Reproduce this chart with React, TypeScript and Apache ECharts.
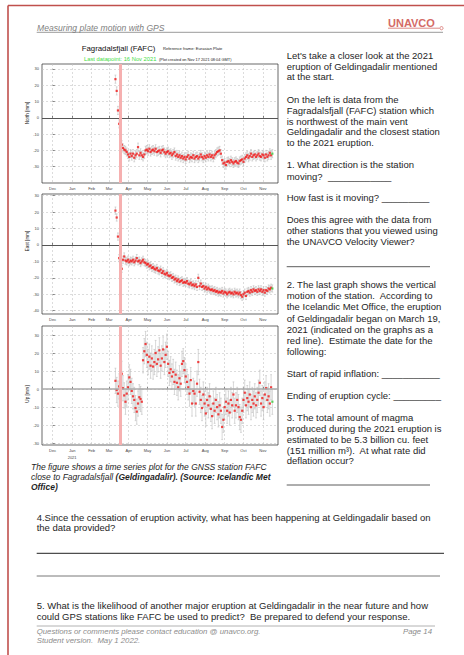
import React, { useEffect, useRef } from 'react';
import * as echarts from 'echarts';

// ---------- data ----------
const monthStarts = [0, 31, 62, 90, 121, 151, 182, 212, 243, 274, 304, 335];
const monthLabels = ['Dec', 'Jan', 'Feb', 'Mar', 'Apr', 'May', 'Jun', 'Jul', 'Aug', 'Sep', 'Oct', 'Nov'];
const eruptionDay = 108; // 19 March 2021 (days since 1 Dec 2020)

const days = [
  100, 102, 104, 106, 108, 110, 112, 114, 116, 118,
  120, 122, 124, 126, 128, 130, 132, 134, 136, 138,
  140, 142, 144, 146, 148, 150, 152, 154, 156, 158,
  160, 162, 164, 166, 168, 170, 172, 174, 176, 178,
  180, 182, 184, 186, 188, 190, 192, 194, 196, 198,
  200, 202, 204, 206, 208, 210, 212, 214, 216, 218,
  220, 222, 224, 226, 228, 230, 232, 234, 236, 238,
  240, 242, 244, 246, 248, 250, 252, 254, 256, 258,
  260, 262, 264, 266, 268, 270, 272, 274, 276, 278,
  280, 282, 284, 286, 288, 290, 292, 294, 296, 298,
  300, 302, 304, 306, 308, 310, 312, 314, 316, 318,
  320, 322, 324, 326, 328, 330, 332, 334, 336, 338,
  340, 342, 344, 346, 348, 350,
];

const north = [
  23.7, 16.5, 4.5, -3.7, -12, -16.5, -18.5, -19.5, -20, -21,
  -22.5, -24, -22, -23.5, -22, -24.5, -23, -22, -18, -23,
  -21.5, -23, -24, -22.5, -20, -19.5, -20.5, -19, -21, -20,
  -19.5, -20.5, -19, -21, -20.5, -20, -21.5, -20, -19.5, -21,
  -22, -21, -20.5, -22, -21.5, -23, -22, -21, -23.5, -22.5,
  -24, -23, -24.5, -23.5, -25, -24, -25.5, -24, -23, -25,
  -24, -24.5, -23, -25, -24, -23.5, -25, -24, -22.5, -24,
  -25, -23.5, -24.5, -23, -24, -22.5, -24, -23, -24.5, -23,
  -22, -21, -20.5, -20, -22, -26, -28, -27.5, -29, -27,
  -26.5, -27.5, -26, -27, -28, -27, -26.5, -27.5, -28, -26.5,
  -26, -25.5, -27, -25, -24, -23, -24.5, -23.5, -22, -24,
  -23, -22.5, -24, -23, -22, -23.5, -24, -22.5, -23, -24.5,
  -22.5, -24, -23, -21.5, -23, -22,
];

const east = [
  20.9, 16.7, 5.1, -8, -12.8, -14.5, -9, -7, -9.5, -10,
  -9, -10.5, -9.5, -10, -9, -10.5, -9.5, -8, -10, -9.5,
  -11, -10, -9, -10.5, -11, -12, -11.5, -13, -12.5, -14,
  -13.5, -14.5, -15, -14, -15.5, -16, -15, -17, -16, -17.5,
  -18, -17, -18.5, -19, -18.5, -20, -19.5, -21, -20.5, -22,
  -21, -22.5, -22, -21.5, -23, -22.5, -23, -22, -23.5, -24,
  -23, -24.5, -24, -25, -24, -25.5, -20, -25, -23.5, -25.5,
  -25, -26.5, -25.5, -27, -26, -27, -27.5, -27, -28, -27.5,
  -28.5, -28, -29, -28.5, -29, -28, -29.5, -28.5, -29, -30,
  -29, -28.5, -29.5, -29, -30, -28.5, -29.5, -29, -30, -29,
  -30.5, -31.5, -30, -29, -31, -28.5, -28, -29, -27.5, -28.5,
  -27, -28, -27.5, -28.5, -27, -28, -27, -28.5, -27.5, -29,
  -27.5, -28, -26.5, -27, -26, -26.5,
];

const up = [
  4.6, -0.5, -2.5, 1.5, 6, 8.5, 0.5, -3.5, -7, -2.5,
  1, 6.5, 4, -1, -4, -6, -10.5, -12.5, -8, -4.5,
  -5.5, -7, 16, 21, 25, 19, 15, 18, 13, 17,
  12.5, 15, 20, 14, 16.5, 21.5, 13, 17, 22, 15,
  19, 23.5, 14, 9, 11, 7, 9.5, 4, 8, 3.5,
  1, 6, 3, 14, 15.5, 10.5, 7, 4, 1, -2.5,
  5, -8, -1, -2.5, -8, 3, 15, -1.5, -6, -10.5,
  -3, -8, -13.5, -6, -9, -4, -11, -15, -8, -12,
  -6, -10, -14, -9, -12, -21, -17, -10, -7, -12,
  -8, -13, -6, -9, -3, -12, -9, -6, -10, -15.5,
  -17, -12, -6, -2, -9, -5, -7, -3, -10, -6,
  -8, -4, -9, -6, -2, 3.5, -8, -5, -10, -3,
  0.5, -6, -4, -8, 1, -7,
];

const northErr = 2.5;
const eastErr = 2.2;
const upErr = 7;

const northTicks = [-30, -20, -10, 0, 10, 20, 30];
const eastTicks = [-40, -30, -20, -10, 0, 10, 20, 30];
const upTicks = [-30, -20, -10, 0, 10, 20, 30];

// ---------- layout / styles ----------
const FONT = '"Liberation Sans", Arial, Helvetica, sans-serif';
const panels = [
  { vals: north, err: northErr, ticks: northTicks, min: -40, max: 33, top: 64, height: 119, name: 'North [mm]', nameY: 113, zero: '#555', zeroW: 1 },
  { vals: east, err: eastErr, ticks: eastTicks, min: -42, max: 31, top: 194, height: 120, name: 'East [mm]', nameY: 241, zero: '#555', zeroW: 1 },
  { vals: up, err: upErr, ticks: upTicks, min: -31, max: 35, top: 326, height: 119, name: 'Up [mm]', nameY: 394, zero: '#aaa', zeroW: 1.6 },
];

function txt(x: number, y: number, text: string, size = 9.5, extra: any = {}) {
  return {
    type: 'text', x, y, silent: true, z: 10,
    style: {
      text, fontSize: size, fontFamily: FONT, fill: '#1e1e1e',
      align: 'left', verticalAlign: 'middle', textAlign: 'left', textVerticalAlign: 'middle',
      ...extra,
    },
  };
}
function hline(x1: number, x2: number, y: number, color: string, w: number) {
  return { type: 'line', silent: true, shape: { x1, y1: y, x2, y2: y }, style: { stroke: color, lineWidth: w } };
}

const rightLines: [number, string][] = [
  [55, "Let's take a closer look at the 2021"],
  [66, 'eruption of Geldingadalir mentioned'],
  [76.7, 'at the start.'],
  [99.3, 'On the left is data from the'],
  [110.3, 'Fagradalsfjall (FAFC) station which'],
  [121, 'is northwest of the main vent'],
  [131.7, 'Geldingadalir and the closest station'],
  [142.3, 'to the 2021 eruption.'],
  [164.3, '1. What direction is the station'],
  [176, 'moving?  ____________'],
  [197.3, 'How fast is it moving? _________'],
  [219.3, 'Does this agree with the data from'],
  [230.3, 'other stations that you viewed using'],
  [241.3, 'the UNAVCO Velocity Viewer?'],
  [284.3, '2. The last graph shows the vertical'],
  [295.7, 'motion of the station.  According to'],
  [306.7, 'the Icelandic Met Office, the eruption'],
  [318.3, 'of Geldingadalir began on March 19,'],
  [329.3, '2021 (indicated on the graphs as a'],
  [340, 'red line).  Estimate the date for the'],
  [351, 'following:'],
  [373.3, 'Start of rapid inflation: ___________'],
  [395.7, 'Ending of eruption cycle: _________'],
  [417.7, '3. The total amount of magma'],
  [428.3, 'produced during the 2021 eruption is'],
  [439, 'estimated to be 5.3 billion cu. feet'],
  [450, '(151 million m³).  At what rate did'],
  [460.7, 'deflation occur?'],
];

const bottomLines: [number, string][] = [
  [517.7, '4.Since the cessation of eruption activity, what has been happening at Geldingadalir based on'],
  [527.7, 'the data provided?'],
  [605, '5. What is the likelihood of another major eruption at Geldingadalir in the near future and how'],
  [616, 'could GPS stations like FAFC be used to predict?  Be prepared to defend your response.'],
];

export default function App() {
  const ref = useRef<HTMLDivElement>(null);
  useEffect(() => {
    if (!ref.current) return;
    const chart = echarts.init(ref.current, null, { renderer: 'svg' });

    const grid: any[] = [];
    const xAxis: any[] = [];
    const yAxis: any[] = [];
    const series: any[] = [];

    panels.forEach((p, i) => {
      grid.push({ left: 42, top: p.top, width: 236, height: p.height, show: true, borderColor: '#2a2a2a', borderWidth: 0.7, backgroundColor: 'transparent' });
      xAxis.push({
        type: 'value', gridIndex: i, min: -17, max: 359,
        axisLine: { show: false },
        axisTick: { show: true, inside: true, length: 2, customValues: monthStarts, lineStyle: { color: '#333', width: 0.6 } },
        axisLabel: {
          show: true, customValues: monthStarts, fontSize: 4, color: '#444', margin: 2, fontFamily: FONT,
          lineHeight: 7,
          formatter: (v: number) => {
            const k = monthStarts.indexOf(Math.round(v));
            const m = k >= 0 ? monthLabels[k] : '';
            return i === 2 && m === 'Jan' ? 'Jan\n2021' : m;
          },
        },
        splitLine: { show: true, lineStyle: { color: '#c4c4c4', type: [2, 2], width: 0.6 } },
      });
      yAxis.push({
        type: 'value', gridIndex: i, min: p.min, max: p.max,
        axisLine: { show: false },
        axisTick: { show: true, inside: true, length: 2, customValues: p.ticks, lineStyle: { color: '#333', width: 0.6 } },
        axisLabel: { show: true, customValues: p.ticks, fontSize: 4, color: '#444', margin: 3, fontFamily: FONT },
        splitLine: { show: true, lineStyle: { color: '#c4c4c4', type: [2, 2], width: 0.6 } },
      });
      const errData = days.map((d, k) => [d, p.vals[k], p.err]);
      series.push({
        type: 'custom', xAxisIndex: i, yAxisIndex: i, z: 2, silent: true,
        data: errData,
        renderItem: (params: any, api: any) => {
          const x = api.value(0), y = api.value(1), e = api.value(2);
          const a = api.coord([x, y + e]);
          const b = api.coord([x, y - e]);
          const st = { stroke: '#bdbdbd', lineWidth: 0.6 };
          return {
            type: 'group',
            children: [
              { type: 'line', shape: { x1: a[0], y1: a[1], x2: b[0], y2: b[1] }, style: st },
              { type: 'line', shape: { x1: a[0] - 0.9, y1: a[1], x2: a[0] + 0.9, y2: a[1] }, style: st },
              { type: 'line', shape: { x1: b[0] - 0.9, y1: b[1], x2: b[0] + 0.9, y2: b[1] }, style: st },
            ],
          };
        },
        markLine: {
          silent: true, symbol: ['none', 'none'], label: { show: false },
          data: [
            { yAxis: 0, lineStyle: { color: p.zero, width: p.zeroW, type: 'solid' } },
            { xAxis: eruptionDay, lineStyle: { color: '#f6b0b0', width: 3, type: 'solid' } },
          ],
        },
      });
      series.push({
        type: 'scatter', xAxisIndex: i, yAxisIndex: i, z: 3, silent: true,
        symbol: 'rect', symbolSize: 2.2,
        itemStyle: { color: '#f01818' },
        data: days.map((d, k) =>
          k === days.length - 1
            ? { value: [d, p.vals[k]], itemStyle: { color: '#3cc83c' } }
            : [d, p.vals[k]]
        ),
      });
    });

    const graphic: any[] = [];
    // page border
    graphic.push({ type: 'line', silent: true, shape: { x1: 8, y1: 5.5, x2: 8, y2: 655 }, style: { stroke: '#c0504d', lineWidth: 1.6 } });
    graphic.push(hline(8, 464, 5.5, '#c0504d', 1.6));
    // header
    graphic.push(txt(37, 28, 'Measuring plate motion with GPS', 8.6, { fill: '#808080', fontStyle: 'italic' }));
    graphic.push(hline(36.7, 443, 32.3, '#9a9a9a', 1));
    graphic.push(txt(388, 22.5, 'UNAVCO', 11, { fill: '#d46a66', fontWeight: 'bold' }));
    graphic.push(hline(388, 439.5, 28.2, '#d46a66', 0.8));
    graphic.push({ type: 'circle', silent: true, shape: { cx: 441.5, cy: 28.2, r: 1.6 }, style: { fill: 'none', stroke: '#d46a66', lineWidth: 0.8 } });
    // chart titles
    graphic.push(txt(81.7, 48.3, 'Fagradalsfjall (FAFC)', 7.8, { fill: '#111' }));
    graphic.push(txt(163, 48.5, 'Reference frame: Eurasian Plate', 4.1, { fill: '#222' }));
    graphic.push(txt(84, 59.3, 'Last datapoint: 16 Nov 2021', 5.8, { fill: '#44dd44' }));
    graphic.push(txt(159, 59.5, '(Plot created on Nov 17 2021 08:04 GMT)', 3.9, { fill: '#222' }));
    // y axis names
    panels.forEach((p) => {
      graphic.push({
        type: 'text', x: 27, y: p.nameY, rotation: Math.PI / 2, silent: true, z: 10,
        style: { text: p.name, fontSize: 4.6, fontFamily: FONT, fill: '#222', align: 'center', verticalAlign: 'middle', textAlign: 'center', textVerticalAlign: 'middle' },
      });
    });
    // caption
    graphic.push(txt(31, 466.7, 'The figure shows a time series plot for the GNSS station FAFC', 8.5, { fontStyle: 'italic' }));
    graphic.push({
      type: 'text', x: 31, y: 476.9, silent: true, z: 10,
      style: {
        text: '{a|close to Fagradalsfjall }{b|(Geldingadalir). (Source: Icelandic Met}',
        fontFamily: FONT, fontSize: 8.5, verticalAlign: 'middle', textVerticalAlign: 'middle',
        rich: {
          a: { fontFamily: FONT, fontSize: 8.5, fontStyle: 'italic', fill: '#1e1e1e', color: '#1e1e1e' },
          b: { fontFamily: FONT, fontSize: 8.5, fontStyle: 'italic', fontWeight: 'bold', fill: '#1e1e1e', color: '#1e1e1e' },
        },
      },
    });
    graphic.push(txt(31, 487, 'Office)', 8.5, { fontStyle: 'italic', fontWeight: 'bold' }));
    // right column
    rightLines.forEach(([y, s]) => graphic.push(txt(286.7, y, s, 9.5)));
    graphic.push(hline(286.7, 430, 266.7, '#333', 0.8));
    graphic.push(hline(286.7, 430, 485, '#333', 0.8));
    // bottom questions
    bottomLines.forEach(([y, s]) => graphic.push(txt(36.7, y, s, 9.5)));
    graphic.push(hline(36.7, 444, 553.3, '#222', 1));
    graphic.push(hline(36.7, 440, 576, '#555', 0.8));
    // footer
    graphic.push(hline(36.7, 435, 626, '#a0a0a0', 0.8));
    graphic.push(txt(36.7, 631.7, 'Questions or comments please contact education @ unavco.org.', 7.8, { fill: '#8c8c8c', fontStyle: 'italic' }));
    graphic.push(txt(36.7, 640.7, 'Student version.  May 1 2022.', 7.8, { fill: '#8c8c8c', fontStyle: 'italic' }));
    graphic.push(txt(432, 631.7, 'Page 14', 7.8, { fill: '#8c8c8c', fontStyle: 'italic', align: 'right', textAlign: 'right' }));

    chart.setOption({
      animation: false,
      backgroundColor: '#ffffff',
      grid, xAxis, yAxis, series, graphic,
    });
    return () => chart.dispose();
  }, []);
  return <div ref={ref} style={{ position: 'absolute', left: 0, top: 0, width: 464, height: 655 }} />;
}
